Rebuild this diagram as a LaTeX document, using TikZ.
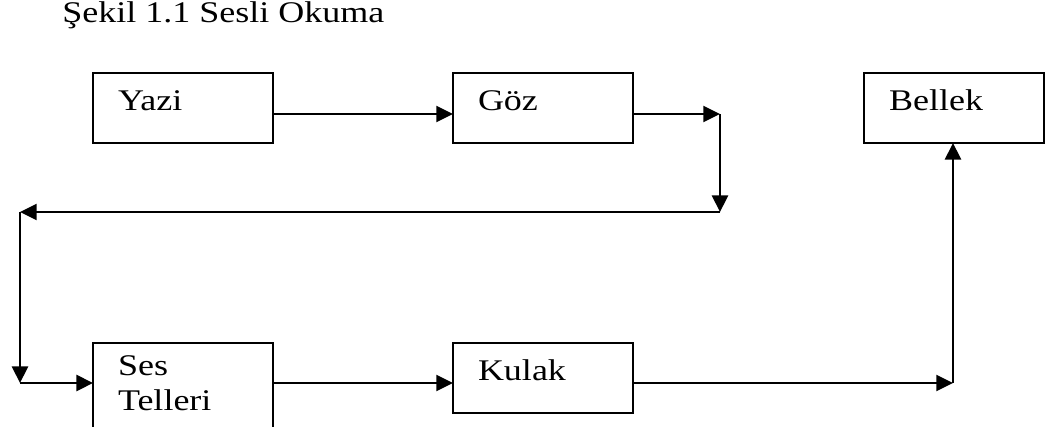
\documentclass[tikz,border=0pt]{standalone}
\usepackage{fontspec}
\setmainfont{Liberation Serif}[FakeStretch=1.2]
\usetikzlibrary{arrows.meta,positioning}

\begin{document}
\begin{tikzpicture}[
  x=0.75pt, y=-0.75pt,
  font=\fontsize{22.5pt}{26.25pt}\selectfont,
  box/.style={
    draw,
    line width=2pt,
    align=left,
    text width=97.5pt,
    inner xsep=18.75pt,
    inner ysep=0pt,
    outer sep=0pt,
    minimum height=52.5pt,
    text height=15pt,
    text depth=12pt
  },
  arrow/.style={-{Triangle[length=12.5pt,width=12pt]},line width=1.5pt},
  varrow/.style={arrow,line width=2.2pt}
]
\useasboundingbox (0,0) rectangle (1049,426);
\node[anchor=base west, inner sep=0pt] (title) at (62,22) {Şekil 1.1 Sesli Okuma};
\node[box] (yazi) at (183,108) {Yazi};
\node[box, right=135pt of yazi] (goz) {Göz};
\node[box, right=173.25pt of goz] (bellek) {Bellek};
\node[box, below=150pt of yazi, minimum height=71.25pt, text depth=38.25pt] (ses) {Ses\\Telleri};
\node[box, below=150pt of goz] (kulak) {Kulak};

\coordinate (c1) at (720,114);
\coordinate (c2) at (720,212);
\coordinate (c3) at (20,212);
\coordinate (c4) at (20,383);
\coordinate (c5) at (953,383);

\draw[arrow] (yazi.east |- c1) -- (goz.west |- c1);
\draw[arrow] (goz.east |- c1) -- (c1);
\draw[varrow] (c1) -- (c2);
\draw[arrow] (c2) -- (c3);
\draw[varrow] (c3) -- (c4);
\draw[varrow] (c4) -- (ses.west |- c4);
\draw[arrow] (ses.east |- c4) -- (kulak.west |- c4);
\draw[arrow] (kulak.east |- c4) -- (c5);
\draw[varrow] (c5) -- (bellek.south -| c5);
\end{tikzpicture}
\end{document}
